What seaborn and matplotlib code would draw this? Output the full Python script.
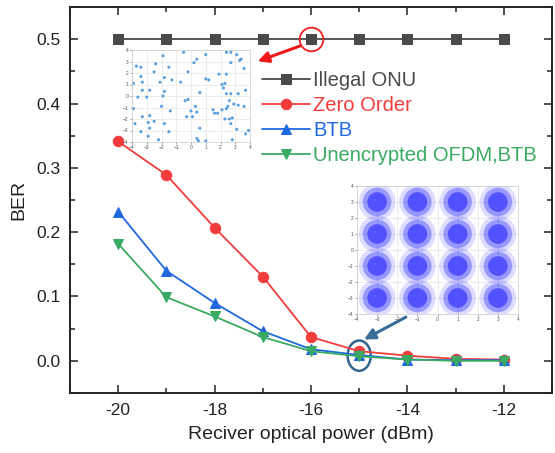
import numpy as np
import pandas as pd
import seaborn as sns
import matplotlib.pyplot as plt
from matplotlib.patches import Ellipse
from matplotlib.ticker import MultipleLocator

# received optical power (dBm) and BER of each case
power = [-20, -19, -18, -17, -16, -15, -14, -13, -12]
ber_illegal = [0.5, 0.5, 0.5, 0.5, 0.5, 0.5, 0.5, 0.5, 0.5]
ber_zero = [0.341, 0.289, 0.207, 0.131, 0.037, 0.015, 0.008, 0.003, 0.002]
ber_btb = [0.232, 0.140, 0.090, 0.046, 0.018, 0.009, 0.002, 0.001, 0.001]
ber_plain = [0.182, 0.099, 0.069, 0.037, 0.015, 0.007, 0.002, 0.000, 0.000]

labels = ["Illegal ONU", "Zero Order", "BTB", "Unencrypted OFDM,BTB"]
colors = ["#4a4a4a", "#f23c3c", "#1f68e0", "#3aaa62"]
markers = ["s", "o", "^", "v"]

# constellation of the illegal ONU (scattered points)
illegal_i = [-3.7, -3.4, -2.4, -1.9, -1.5, -0.5, 0.4, 0.2, 1.0, 2.4, 2.7, 3.1, 3.3, 3.4,
             2.7, 3.6, -3.4, -2.5, -3.3, -2.1, -1.8, -0.7, -0.2, 1.0, 1.2, 1.9, 2.4, 2.1,
             2.3, 2.2, -3.3, -2.8, -3.9, -1.8, 0.6, 2.4, 2.7, 3.2, 3.7, -3.0, -3.6, -1.9,
             -0.4, -0.2, 2.6, 2.9, 3.2, -3.9, -1.4, -2.0, 0.3, 0.0, 0.4, -0.3, 0.1, 1.5,
             1.6, 1.8, 2.1, 2.4, 2.5, 3.6, -3.3, -2.8, -2.9, -2.5, -1.8, 2.3, 2.6, 2.8,
             -3.8, 2.7, 0.6, -2.8, -3.4, -1.5, 3.1, 3.9, 3.7, -2.9, -2.2, 0.4, 0.5, 1.0,
             2.8, -1.3]
illegal_q = [2.6, 2.5, 2.8, 3.5, 2.5, 3.8, 3.2, 2.9, 3.6, 3.8, 3.8, 3.6, 3.1, 3.2,
             2.9, 2.4, 1.7, 2.1, 1.2, 1.2, 1.6, 1.2, 2.1, 1.5, 1.4, 1.9, 1.9, 1.0,
             1.1, 0.7, 0.5, 0.5, 1.1, 0.4, 0.3, 0.2, 0.2, 0.2, 0.5, -0.1, -0.1, 0.0,
             -0.4, -0.3, -0.4, -0.7, -0.8, -1.1, -1.3, -0.9, -0.9, -1.3, -1.4, -1.8, -1.8, -1.2,
             -1.5, -1.5, -1.2, -1.1, -0.9, -0.9, -1.8, -1.7, -2.3, -2.2, -2.4, -2.0, -2.0, -1.9,
             -2.4, -2.4, -2.8, -2.8, -3.1, -3.1, -2.9, -3.0, -3.3, -3.5, -3.8, -3.7, -3.9, -3.9,
             -3.8, 1.4]

# 16-QAM symbol positions of the legal receiver
qam_i = [-3, -1, 1, 3, -3, -1, 1, 3, -3, -1, 1, 3, -3, -1, 1, 3]
qam_q = [3, 3, 3, 3, 1, 1, 1, 1, -1, -1, -1, -1, -3, -3, -3, -3]

sns.set_theme(style="ticks")
plt.rcParams["font.family"] = ["Liberation Sans", "DejaVu Sans"]

fig = plt.figure(figsize=(5.55, 4.53), dpi=100)
ax = fig.add_axes([0.126, 0.1325, 0.8686, 0.852])

for ber, label, color, marker in zip([ber_illegal, ber_zero, ber_btb, ber_plain], labels, colors, markers):
    df = pd.DataFrame({"power": power, "ber": ber})
    sns.lineplot(data=df, x="power", y="ber", ax=ax, color=color, marker=marker,
                 markersize=7.5, markeredgecolor=color, linewidth=1.3, label=label)

ax.set_xlim(-21, -11)
ax.set_ylim(-0.05, 0.55)
ax.xaxis.set_major_locator(MultipleLocator(2))
ax.xaxis.set_minor_locator(MultipleLocator(1))
ax.yaxis.set_major_locator(MultipleLocator(0.1))
ax.yaxis.set_minor_locator(MultipleLocator(0.05))
ax.xaxis.set_major_formatter(plt.FuncFormatter(lambda v, p: "%d" % v))
ax.tick_params(which="both", direction="in", top=True, right=True, width=1.1, labelsize=12.5,
               colors="#222222", pad=7)
ax.tick_params(which="major", length=6)
ax.tick_params(which="minor", length=3.5)
for side in ax.spines.values():
    side.set_linewidth(1.4)
    side.set_color("#222222")
ax.set_xlabel("Reciver optical power (dBm)", fontsize=14, color="#222222", labelpad=6)
ax.set_ylabel("BER", fontsize=14, color="#222222", labelpad=6)

leg = ax.legend(loc="upper left", bbox_to_anchor=(262 / 555, 1 - 71 / 453),
                bbox_transform=fig.transFigure, frameon=False, fontsize=14.5,
                handlelength=2.4, handletextpad=0.15, labelspacing=0.3,
                borderpad=0, borderaxespad=0)
for text, color in zip(leg.get_texts(), colors):
    text.set_color(color)

# highlight circles and arrows
ax.plot(power[4], ber_illegal[4], marker="o", markersize=17, markerfacecolor="none",
        markeredgecolor="#f02020", markeredgewidth=1.3)
ax.annotate("", xy=(-17.16, 0.464), xytext=(-16.17, 0.491),
            arrowprops=dict(arrowstyle="-|>", color="#f01818", lw=2.2, mutation_scale=16))
ax.add_patch(Ellipse((power[5], 0.008), 0.48, 0.047, fill=False, edgecolor="#34658f", lw=1.8))
ax.annotate("", xy=(-14.95, 0.031), xytext=(-13.98, 0.070),
            arrowprops=dict(arrowstyle="-|>", color="#3a6d98", lw=2.2, mutation_scale=16))

# inset: constellation seen by the illegal ONU
ins1 = fig.add_axes([132 / 555, 1 - 142 / 453, 118 / 555, 92 / 453])
sns.scatterplot(x=illegal_i, y=illegal_q, ax=ins1, s=5, color="#5a9fe0", edgecolor="none")
# inset: recovered 16-QAM constellation (noise clouds drawn as soft blobs)
ins2 = fig.add_axes([357 / 555, 1 - 314 / 453, 161 / 555, 128 / 453])
for size, alpha in [(700, 0.15), (420, 0.35), (200, 0.55)]:
    sns.scatterplot(x=qam_i, y=qam_q, ax=ins2, s=size, color="#1a1aff", alpha=alpha,
                    edgecolor="none")

for ins in [ins1, ins2]:
    ins.set_xlim(-4, 4)
    ins.set_ylim(-4, 4)
    ins.set_xticks(range(-4, 5))
    ins.set_yticks(range(-4, 5))
    ins.tick_params(labelsize=3.5, length=1.5, width=0.4, pad=1, colors="#555555")
    ins.grid(True, color="#e4e4e4", lw=0.5)
    ins.set_axisbelow(True)
    for side in ins.spines.values():
        side.set_linewidth(0.5)
        side.set_color("#cccccc")

fig.savefig("out.png", dpi=100)
